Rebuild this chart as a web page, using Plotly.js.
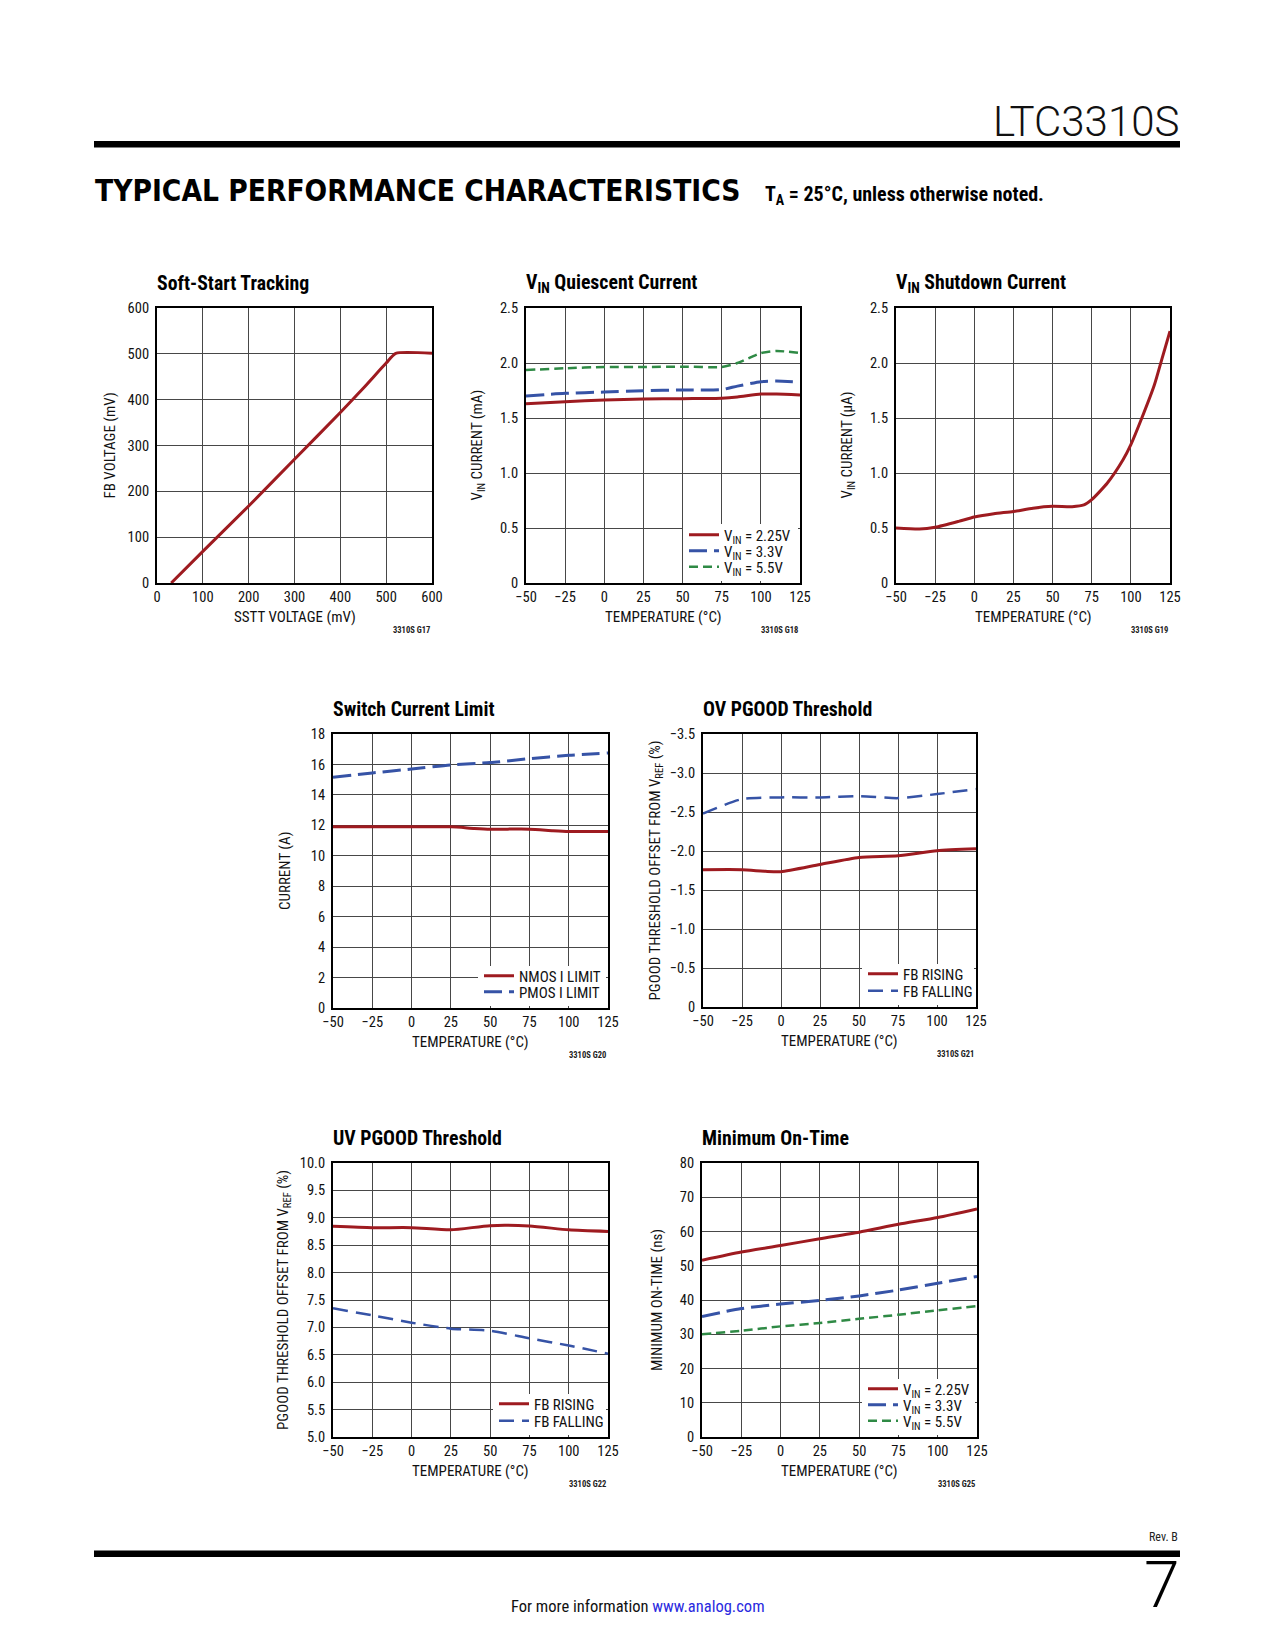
<!DOCTYPE html>
<html>
<head>
<meta charset="utf-8">
<script src="https://cdn.plot.ly/plotly-3.0.1.min.js"></script>
<style>html,body{margin:0;padding:0;background:#fff;}#page{width:1275px;height:1650px;}</style>
</head>
<body>
<div id="page"></div>
<script>
// ---------------- DATA ----------------
// Soft-Start Tracking
const sstX = [31, 100, 200, 300, 400, 450, 500, 521, 600];
const sstY = [0, 69, 168, 270, 372, 425, 480, 501, 501];
const sstTicks = [0, 100, 200, 300, 400, 500, 600];

// VIN Quiescent Current (mA)
const qT   = [-50, -25, 0, 25, 50, 75, 85, 100, 110, 125];
const q225 = [1.63, 1.648, 1.664, 1.673, 1.676, 1.679, 1.69, 1.718, 1.718, 1.709];
const q33  = [1.70, 1.724, 1.736, 1.748, 1.755, 1.758, 1.79, 1.83, 1.836, 1.827];
const q55  = [1.936, 1.952, 1.964, 1.964, 1.967, 1.964, 2.0, 2.09, 2.11, 2.09];
const curTickVals = [0, 0.5, 1.0, 1.5, 2.0, 2.5];
const curTickText = ['0', '0.5', '1.0', '1.5', '2.0', '2.5'];

// VIN Shutdown Current (uA)
const sdT = [-50, -35, -25, -10, 0, 12.5, 25, 37.5, 50, 62.5, 70, 75, 85, 95, 100, 107, 115, 120, 125];
const sdI = [0.5, 0.49, 0.506, 0.56, 0.6, 0.63, 0.65, 0.68, 0.697, 0.694, 0.71, 0.758, 0.909, 1.12, 1.258, 1.5, 1.8, 2.045, 2.29];

// Switch Current Limit (A)
const swT  = [-50, -25, 0, 25, 40, 50, 75, 90, 100, 125];
const nmos = [11.9, 11.9, 11.9, 11.9, 11.8, 11.75, 11.75, 11.65, 11.6, 11.6];
const swT2 = [-50, -25, 0, 25, 50, 75, 100, 125];
const pmos = [15.16, 15.44, 15.7, 15.97, 16.12, 16.38, 16.6, 16.75];
const swTicks = [0, 2, 4, 6, 8, 10, 12, 14, 16, 18];

// OV PGOOD Threshold (%)
const ovT1   = [-50, -25, -10, 0, 25, 50, 75, 100, 125];
const ovRise = [-1.76, -1.76, -1.74, -1.735, -1.827, -1.917, -1.938, -2.003, -2.028];
const ovT2   = [-50, -25, 0, 25, 50, 75, 100, 125];
const ovFall = [-2.48, -2.666, -2.687, -2.687, -2.704, -2.678, -2.73, -2.794];
const ovTickVals = [0, -0.5, -1.0, -1.5, -2.0, -2.5, -3.0, -3.5];
const ovTickText = ['0', '\u22120.5', '\u22121.0', '\u22121.5', '\u22122.0', '\u22122.5', '\u22123.0', '\u22123.5'];

// UV PGOOD Threshold (%)
const uvT    = [-50, -25, 0, 25, 50, 75, 100, 125];
const uvRise = [8.844, 8.82, 8.82, 8.78, 8.857, 8.85, 8.78, 8.75];
const uvFall = [7.348, 7.22, 7.086, 6.977, 6.94, 6.80, 6.67, 6.52];
const uvTickVals = [5.0, 5.5, 6.0, 6.5, 7.0, 7.5, 8.0, 8.5, 9.0, 9.5, 10.0];
const uvTickText = ['5.0', '5.5', '6.0', '6.5', '7.0', '7.5', '8.0', '8.5', '9.0', '9.5', '10.0'];

// Minimum On-Time (ns)
const mtT   = [-50, -25, 0, 25, 50, 75, 100, 125];
const mt225 = [51.6, 54.0, 55.9, 57.9, 59.8, 62.1, 64.1, 66.6];
const mt33  = [35.2, 37.5, 38.8, 39.9, 41.2, 42.9, 44.9, 46.9];
const mt55  = [30.0, 31.0, 32.3, 33.3, 34.5, 35.7, 37.0, 38.2];
const mtTicks = [0, 10, 20, 30, 40, 50, 60, 70, 80];

const tempTicks = [-50, -25, 0, 25, 50, 75, 100, 125];
const tempTickText = ['\u221250', '\u221225', '0', '25', '50', '75', '100', '125'];

// ---------------- STYLE ----------------
const FONT = '"Liberation Sans Narrow", "Roboto Condensed", "Arial Narrow", "Liberation Sans", Arial, sans-serif';
const RED = '#9e1b20', BLUE = '#3653a6', GREEN = '#2f8a45';
const W = 1275, H = 1650;
const px = x => x / W;
const py = y => 1 - y / H;

// plot rectangles in page pixels [left, right, top, bottom]
const boxes = [
  [157, 432, 308, 583],
  [526, 800, 308, 583],
  [896, 1170, 308, 583],
  [333, 608, 734, 1008],
  [703, 976, 734, 1007],
  [333, 608, 1163, 1437],
  [702, 977, 1163, 1437]
];

const layout = {
  width: W, height: H,
  margin: {l: 0, r: 0, t: 0, b: 0},
  paper_bgcolor: '#fff', plot_bgcolor: '#fff',
  font: {family: FONT, color: '#111', size: 14},
  showlegend: true,
  annotations: [], shapes: []
};

function axisPair(i, xr, yr, xvals, xtext, yvals, ytext) {
  const b = boxes[i];
  const n = i + 1;
  const sfx = n === 1 ? '' : String(n);
  const common = {
    showline: true, mirror: true, linecolor: '#000', linewidth: 2,
    showgrid: true, gridcolor: '#474747', gridwidth: 1, zeroline: false,
    ticks: '', tickfont: {family: FONT, size: 14.5, color: '#111'}, fixedrange: true
  };
  layout['xaxis' + sfx] = Object.assign({}, common, {
    domain: [px(b[0]), px(b[1])], anchor: 'y' + sfx,
    range: xr, tickmode: 'array', tickvals: xvals, ticktext: xtext
  });
  layout['yaxis' + sfx] = Object.assign({}, common, {
    domain: [py(b[3]), py(b[2])], anchor: 'x' + sfx,
    range: yr, tickmode: 'array', tickvals: yvals, ticktext: ytext,
    ticklabelstandoff: 3
  });
}

axisPair(0, [0, 600], [0, 600], sstTicks, sstTicks.map(String), sstTicks, sstTicks.map(String));
axisPair(1, [-50, 125], [0, 2.5], tempTicks, tempTickText, curTickVals, curTickText);
axisPair(2, [-50, 125], [0, 2.5], tempTicks, tempTickText, curTickVals, curTickText);
axisPair(3, [-50, 125], [0, 18], tempTicks, tempTickText, swTicks, swTicks.map(String));
axisPair(4, [-50, 125], [0, -3.5], tempTicks, tempTickText, ovTickVals, ovTickText);
axisPair(5, [-50, 125], [5, 10], tempTicks, tempTickText, uvTickVals, uvTickText);
axisPair(6, [-50, 125], [0, 80], tempTicks, tempTickText, mtTicks, mtTicks.map(String));

// legend entries: [sample left x, row center y] in page pixels
const traces = [];
let legendCount = 0;
function ln(i, x, y, name, color, width, dash, pos) {
  const n = i + 1;
  const sfx = n === 1 ? '' : String(n);
  let legKey = 'legend';
  if (pos) {
    legendCount++;
    legKey = legendCount === 1 ? 'legend' : 'legend' + legendCount;
    layout[legKey] = {
      x: px(pos[0] - 5), y: py(pos[1]), xanchor: 'left', yanchor: 'middle',
      bgcolor: 'rgba(0,0,0,0)', borderwidth: 0,
      font: {family: FONT, size: 15, color: '#111'},
      tracegroupgap: 0, itemwidth: 30
    };
  }
  traces.push({
    type: 'scatter', mode: 'lines', x: x, y: y, name: name,
    xaxis: 'x' + sfx, yaxis: 'y' + sfx,
    line: {color: color, width: width, dash: dash || 'solid', shape: 'spline', smoothing: 0.6},
    showlegend: !!pos, legend: legKey, hoverinfo: 'skip'
  });
}
const LD = '18px,7px', SD = '9px,5px', FD = '15px,8px';
ln(0, sstX, sstY, 'soft-start', RED, 3, 'solid', null);
ln(1, qT, q225, 'V<sub>IN</sub> = 2.25V', RED, 3, 'solid', [689, 535]);
ln(1, qT, q33,  'V<sub>IN</sub> = 3.3V', BLUE, 3, LD, [689, 551]);
ln(1, qT, q55,  'V<sub>IN</sub> = 5.5V', GREEN, 2.5, SD, [689, 567]);
ln(2, sdT, sdI, 'shutdown', RED, 3, 'solid', null);
ln(3, swT, nmos, 'NMOS I LIMIT', RED, 3, 'solid', [484, 976]);
ln(3, swT2, pmos, 'PMOS I LIMIT', BLUE, 3, LD, [484, 992]);
ln(4, ovT1, ovRise, 'FB RISING', RED, 3, 'solid', [868, 974]);
ln(4, ovT2, ovFall, 'FB FALLING', BLUE, 2.5, FD, [868, 991]);
ln(5, uvT, uvRise, 'FB RISING', RED, 3, 'solid', [499, 1404]);
ln(5, uvT, uvFall, 'FB FALLING', BLUE, 2.5, FD, [499, 1421]);
ln(6, mtT, mt225, 'V<sub>IN</sub> = 2.25V', RED, 3, 'solid', [868, 1389]);
ln(6, mtT, mt33,  'V<sub>IN</sub> = 3.3V', BLUE, 3, LD, [868, 1405]);
ln(6, mtT, mt55,  'V<sub>IN</sub> = 5.5V', GREEN, 2.5, SD, [868, 1421]);

// white panels behind legends (cover gridlines)
const legendPanels = [
  [683, 798, 524, 581],
  [478, 606, 966, 1006],
  [862, 974, 964, 1005],
  [493, 606, 1394, 1435],
  [862, 975, 1379, 1435]
];
legendPanels.forEach(r => layout.shapes.push({
  type: 'rect', xref: 'paper', yref: 'paper', layer: 'above',
  x0: px(r[0]), x1: px(r[1]), y0: py(r[3]), y1: py(r[2]),
  fillcolor: '#fff', line: {width: 0}
}));

// ---------------- TEXT ----------------
function ann(text, x, y, opt) {
  layout.annotations.push(Object.assign({
    text: text, x: px(x), y: py(y), xref: 'paper', yref: 'paper',
    showarrow: false, xanchor: 'center', yanchor: 'middle',
    font: {family: FONT, size: 14, color: '#111'}
  }, opt || {}));
}
const chartTitles = [
  'Soft-Start Tracking', 'V<sub>IN</sub> Quiescent Current', 'V<sub>IN</sub> Shutdown Current',
  'Switch Current Limit', 'OV PGOOD Threshold', 'UV PGOOD Threshold', 'Minimum On-Time'
];
const xTitles = ['SSTT VOLTAGE (mV)', 'TEMPERATURE (\u00b0C)', 'TEMPERATURE (\u00b0C)', 'TEMPERATURE (\u00b0C)',
  'TEMPERATURE (\u00b0C)', 'TEMPERATURE (\u00b0C)', 'TEMPERATURE (\u00b0C)'];
const yTitles = ['FB VOLTAGE (mV)', 'V<sub>IN</sub> CURRENT (mA)', 'V<sub>IN</sub> CURRENT (\u00b5A)', 'CURRENT (A)',
  'PGOOD THRESHOLD OFFSET FROM V<sub>REF</sub> (%)', 'PGOOD THRESHOLD OFFSET FROM V<sub>REF</sub> (%)', 'MINIMUM ON-TIME (ns)'];
const codes = ['3310S G17', '3310S G18', '3310S G19', '3310S G20', '3310S G21', '3310S G22', '3310S G25'];
const yTitleX = [109, 477, 847, 285, 655, 284, 657];

boxes.forEach((b, i) => {
  const cx = (b[0] + b[1]) / 2, cy = (b[2] + b[3]) / 2;
  ann(chartTitles[i], b[0] - 2, b[2] - 25, {xanchor: 'left', font: {family: FONT, size: 19.8, weight: 'bold', color: '#000'}});
  ann(xTitles[i], cx, b[3] + 34, {font: {family: FONT, size: 15, color: '#111'}});
  ann(yTitles[i], yTitleX[i], cy, {textangle: -90, font: {family: FONT, size: 15, color: '#111'}});
  ann(codes[i], b[1], b[3] + 47, {xanchor: 'right', font: {family: FONT, size: 8.5, weight: 'bold', color: '#222'}});
});

// header
layout.shapes.push({type: 'rect', xref: 'paper', yref: 'paper', x0: px(94), x1: px(1180), y0: py(147.5), y1: py(141), fillcolor: '#000', line: {width: 0}});
layout.shapes.push({type: 'rect', xref: 'paper', yref: 'paper', x0: px(94), x1: px(1180), y0: py(1557), y1: py(1550.5), fillcolor: '#000', line: {width: 0}});
ann('LTC3310S', 1181, 121, {xanchor: 'right', font: {family: 'Roboto, "Liberation Sans", sans-serif', size: 42, weight: 300, color: '#111'}});
ann('TYPICAL PERFORMANCE CHARACTERISTICS', 93, 191, {xanchor: 'left', font: {family: '"DejaVu Sans Condensed", "DejaVu Sans", sans-serif', size: 29.6, weight: 'bold', color: '#000'}});
ann('T<sub>A</sub> = 25\u00b0C, unless otherwise noted.', 763, 195, {xanchor: 'left', font: {family: FONT, size: 20, weight: 'bold', color: '#000'}});
// footer
ann('Rev. B', 1180, 1537, {xanchor: 'right', font: {family: FONT, size: 12, color: '#222'}});
ann('7', 1182, 1585, {xanchor: 'right', font: {family: 'Roboto, "Liberation Sans", sans-serif', size: 64, weight: 300, color: '#000'}});
ann('For more information <span style="color:#2a2ae0">www.analog.com</span>', 638, 1606, {font: {family: FONT, size: 16.5, color: '#111'}});

Plotly.newPlot('page', traces, layout, {staticPlot: true, displayModeBar: false});
</script>
</body>
</html>
